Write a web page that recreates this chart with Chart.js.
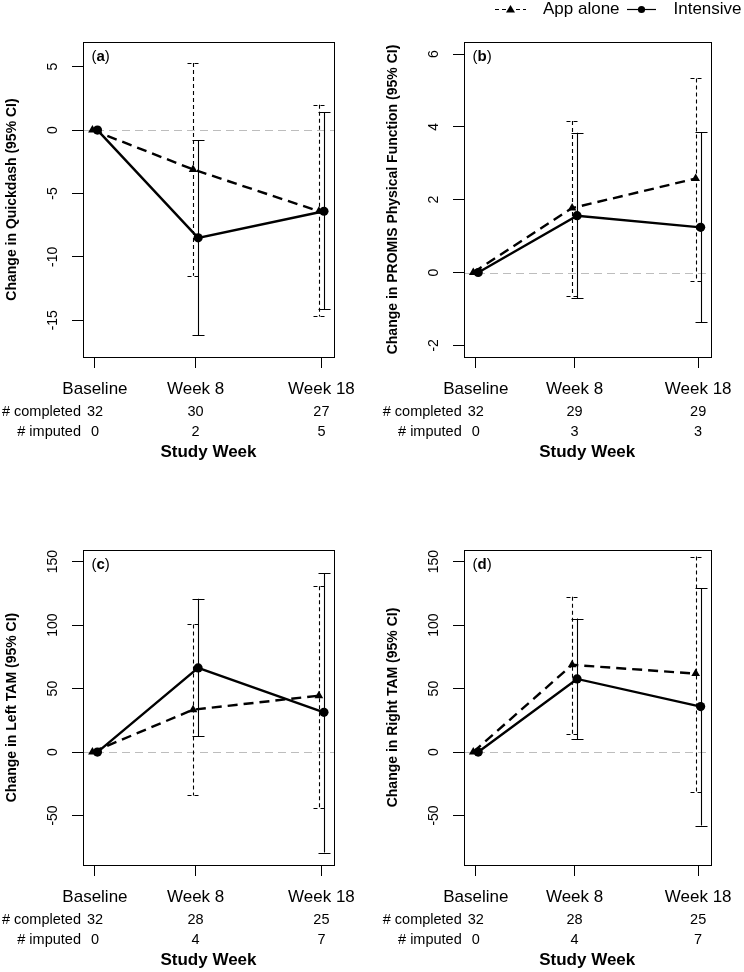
<!DOCTYPE html>
<html>
<head>
<meta charset="utf-8">
<script src="https://cdn.jsdelivr.net/npm/chart.js@4/dist/chart.umd.min.js"></script>
<style>
  html, body { margin: 0; padding: 0; background: #fff; }
  #wrap { position: relative; width: 744px; height: 972px; overflow: hidden; }
  canvas { position: absolute; }
</style>
</head>
<body>
<div id="wrap">
  <canvas id="ca" width="372" height="464" style="left:0;top:0"></canvas>
  <canvas id="cb" width="372" height="464" style="left:372px;top:0"></canvas>
  <canvas id="cc" width="372" height="464" style="left:0;top:508px"></canvas>
  <canvas id="cd" width="372" height="464" style="left:372px;top:508px"></canvas>
</div>
<script>
// ---------------- data ----------------
const weeks = [0, 8, 18];
const weekLabels = ['Baseline', 'Week 8', 'Week 18'];
const seriesNames = ['App alone', 'Intensive'];

// (a) Quickdash
const qdAppMean = [0, -3.1, -6.4];
const qdAppLo   = [null, -11.5, -14.7];
const qdAppHi   = [null, 5.3, 2.0];
const qdIntMean = [0, -8.5, -6.4];
const qdIntLo   = [null, -16.2, -14.15];
const qdIntHi   = [null, -0.8, 1.4];
const qdCompleted = [32, 30, 27];
const qdImputed   = [0, 2, 5];
const qdTicks = [-15, -10, -5, 0, 5];

// (b) PROMIS Physical Function
const pfAppMean = [0, 1.77, 2.58];
const pfAppLo   = [null, -0.64, -0.23];
const pfAppHi   = [null, 4.16, 5.33];
const pfIntMean = [0, 1.56, 1.24];
const pfIntLo   = [null, -0.70, -1.37];
const pfIntHi   = [null, 3.84, 3.86];
const pfCompleted = [32, 29, 29];
const pfImputed   = [0, 3, 3];
const pfTicks = [-2, 0, 2, 4, 6];

// (c) Left TAM
const ltAppMean = [0, 33.4, 44.4];
const ltAppLo   = [null, -34.2, -43.7];
const ltAppHi   = [null, 100.5, 130.7];
const ltIntMean = [0, 66.3, 31.3];
const ltIntLo   = [null, 12.3, -79.2];
const ltIntHi   = [null, 120.8, 141];
const ltCompleted = [32, 28, 25];
const ltImputed   = [0, 4, 7];
const ltTicks = [-50, 0, 50, 100, 150];

// (d) Right TAM
const rtAppMean = [0, 68.7, 61.8];
const rtAppLo   = [null, 14.2, -31.6];
const rtAppHi   = [null, 122.4, 154];
const rtIntMean = [0, 57.6, 35.8];
const rtIntLo   = [null, 10.2, -57.9];
const rtIntHi   = [null, 105.2, 129.2];
const rtCompleted = [32, 28, 25];
const rtImputed   = [0, 4, 7];
const rtTicks = [-50, 0, 50, 100, 150];

// ---------------- styling ----------------
const FONT = "'Liberation Sans', Arial, Helvetica, sans-serif";
const DODGE_APP = -0.2, DODGE_INT = 0.2;

const panelPlugin = {
  id: 'panel',
  beforeDatasetsDraw(chart) {
    const p = chart.options.plugins.panel;
    const { ctx, chartArea: a, scales: { x, y } } = chart;
    // zero reference line
    ctx.save();
    ctx.beginPath(); ctx.rect(a.left, a.top, a.width, a.height); ctx.clip();
    ctx.strokeStyle = '#bdbdbd'; ctx.lineWidth = 1; ctx.setLineDash([8, 5]);
    const y0 = Math.round(y.getPixelForValue(0)) + 0.5;
    ctx.beginPath(); ctx.moveTo(a.left, y0); ctx.lineTo(a.right, y0); ctx.stroke();
    ctx.restore();
    // error bars
    p.bars.forEach(b => {
      ctx.save();
      ctx.strokeStyle = '#000'; ctx.lineWidth = 1.1;
      ctx.setLineDash(b.dash);
      weeks.forEach((w, i) => {
        if (b.lo[i] == null) return;
        const xp = Math.round(x.getPixelForValue(w + b.dodge)) + 0.5;
        const yl = y.getPixelForValue(b.lo[i]);
        const yh = y.getPixelForValue(b.hi[i]);
        ctx.beginPath();
        ctx.moveTo(xp, yh); ctx.lineTo(xp, yl);
        ctx.moveTo(xp - 6, Math.round(yh) + 0.5); ctx.lineTo(xp + 6, Math.round(yh) + 0.5);
        ctx.moveTo(xp - 6, Math.round(yl) + 0.5); ctx.lineTo(xp + 6, Math.round(yl) + 0.5);
        ctx.stroke();
      });
      ctx.restore();
    });
  },
  afterDraw(chart) {
    const p = chart.options.plugins.panel;
    const { ctx, chartArea: a, scales: { x, y } } = chart;
    ctx.save();
    // box
    ctx.strokeStyle = '#000'; ctx.lineWidth = 1; ctx.setLineDash([]);
    ctx.strokeRect(Math.round(a.left) + 0.5, Math.round(a.top) + 0.5,
                   Math.round(a.width), Math.round(a.height));
    ctx.fillStyle = '#000';
    // y tick labels (rotated, R style)
    ctx.font = '14px ' + FONT;
    ctx.textAlign = 'center'; ctx.textBaseline = 'middle';
    y.ticks.forEach(t => {
      const yp = y.getPixelForValue(t.value);
      ctx.save(); ctx.translate(a.left - 30, yp); ctx.rotate(-Math.PI / 2);
      ctx.fillText(String(t.value), 0, 0); ctx.restore();
    });
    // y title
    ctx.font = 'bold 14px ' + FONT;
    ctx.save(); ctx.translate(a.left - 71, (a.top + a.bottom) / 2); ctx.rotate(-Math.PI / 2);
    ctx.fillText(p.yTitle, 0, 0); ctx.restore();
    // panel label
    ctx.textAlign = 'left';
    let px = a.left + 8.5; const py = a.top + 14.5;
    ctx.font = '15px ' + FONT; ctx.fillText('(', px, py); px += ctx.measureText('(').width;
    ctx.font = 'bold 15px ' + FONT; ctx.fillText(p.letter, px, py); px += ctx.measureText(p.letter).width;
    ctx.font = '15px ' + FONT; ctx.fillText(')', px, py);
    // rows below axis
    ctx.font = '14.5px ' + FONT;
    const x0 = x.getPixelForValue(weeks[0]);
    ctx.textAlign = 'right';
    ctx.fillText('# completed', x0 - 14, a.bottom + 54.7);
    ctx.fillText('# imputed', x0 - 14, a.bottom + 75.3);
    ctx.textAlign = 'center';
    weeks.forEach((w, i) => {
      const xp = x.getPixelForValue(w);
      ctx.fillText(String(p.completed[i]), xp, a.bottom + 54.7);
      ctx.fillText(String(p.imputed[i]), xp, a.bottom + 75.3);
    });
    ctx.font = 'bold 17px ' + FONT;
    ctx.fillText('Study Week', (a.left + a.right) / 2, a.bottom + 95.3);
    // legend (only on one panel)
    if (p.legend) {
      const ly = 9.5;
      ctx.lineWidth = 1.2; ctx.strokeStyle = '#000';
      ctx.setLineDash([4, 3]);
      ctx.beginPath(); ctx.moveTo(123, ly); ctx.lineTo(154, ly); ctx.stroke();
      ctx.setLineDash([]);
      ctx.beginPath(); ctx.moveTo(138.5, ly - 4.5); ctx.lineTo(143, ly + 3); ctx.lineTo(134, ly + 3); ctx.closePath(); ctx.fill();
      ctx.beginPath(); ctx.moveTo(255, ly); ctx.lineTo(284, ly); ctx.stroke();
      ctx.beginPath(); ctx.arc(269.5, ly, 3.6, 0, Math.PI * 2); ctx.fill();
      ctx.font = '17px ' + FONT; ctx.textAlign = 'left'; ctx.textBaseline = 'middle';
      ctx.fillText(seriesNames[0], 171, ly);
      ctx.fillText(seriesNames[1], 301.5, ly);
    }
    ctx.restore();
  }
};

function makePanel(id, cfg) {
  const mk = (mean, dodge) => weeks.map((w, i) => ({ x: w + dodge, y: mean[i] }));
  return new Chart(document.getElementById(id), {
    type: 'line',
    data: {
      datasets: [
        { label: seriesNames[0], data: mk(cfg.appMean, DODGE_APP),
          borderColor: '#000', backgroundColor: '#000', borderWidth: 2.4,
          borderDash: [10, 6], pointStyle: 'triangle', pointRadius: 5,
          pointBorderWidth: 0, pointBackgroundColor: '#000', tension: 0 },
        { label: seriesNames[1], data: mk(cfg.intMean, DODGE_INT),
          borderColor: '#000', backgroundColor: '#000', borderWidth: 2.4,
          pointStyle: 'circle', pointRadius: 4.6,
          pointBorderWidth: 0, pointBackgroundColor: '#000', tension: 0 }
      ]
    },
    options: {
      responsive: false, animation: false, devicePixelRatio: 1,
      layout: { padding: { left: 0, top: 42, right: cfg.padRight, bottom: 0 } },
      plugins: {
        legend: { display: false }, tooltip: { enabled: false },
        panel: {
          letter: cfg.letter, yTitle: cfg.yTitle, completed: cfg.completed, imputed: cfg.imputed,
          legend: !!cfg.legend,
          bars: [
            { lo: cfg.appLo, hi: cfg.appHi, dodge: DODGE_APP, dash: [4, 3] },
            { lo: cfg.intLo, hi: cfg.intHi, dodge: DODGE_INT, dash: [] }
          ]
        }
      },
      scales: {
        x: {
          type: 'linear', min: -0.95, max: 19.0,
          afterBuildTicks: s => { s.ticks = weeks.map(v => ({ value: v })); },
          afterFit: s => { s.height = 107; },
          ticks: {
            autoSkip: false, maxRotation: 0, minRotation: 0, padding: 11, color: '#000',
            font: { family: FONT, size: 17 },
            callback: v => weekLabels[weeks.indexOf(v)]
          },
          grid: { drawOnChartArea: false, drawTicks: true, tickLength: 11, color: '#000', lineWidth: 1 },
          border: { display: true, color: '#000' }
        },
        y: {
          type: 'linear', min: cfg.yMin, max: cfg.yMax,
          afterBuildTicks: s => { s.ticks = cfg.yTicks.map(v => ({ value: v })); },
          afterFit: s => { s.width = cfg.yWidth; },
          ticks: { display: false },
          grid: { drawOnChartArea: false, drawTicks: true, tickLength: 11, color: '#000', lineWidth: 1 },
          border: { display: true, color: '#000' }
        }
      }
    },
    plugins: [panelPlugin]
  });
}

makePanel('ca', { letter: 'a', yTitle: 'Change in Quickdash (95% CI)',
  appMean: qdAppMean, appLo: qdAppLo, appHi: qdAppHi,
  intMean: qdIntMean, intLo: qdIntLo, intHi: qdIntHi,
  completed: qdCompleted, imputed: qdImputed, yTicks: qdTicks,
  yMin: -17.9, yMax: 6.95, yWidth: 83, padRight: 38 });

makePanel('cb', { letter: 'b', yTitle: 'Change in PROMIS Physical Function (95% CI)',
  appMean: pfAppMean, appLo: pfAppLo, appHi: pfAppHi,
  intMean: pfIntMean, intLo: pfIntLo, intHi: pfIntHi,
  completed: pfCompleted, imputed: pfImputed, yTicks: pfTicks,
  yMin: -2.32, yMax: 6.33, yWidth: 92, padRight: 29, legend: true });

makePanel('cc', { letter: 'c', yTitle: 'Change in Left TAM (95% CI)',
  appMean: ltAppMean, appLo: ltAppLo, appHi: ltAppHi,
  intMean: ltIntMean, intLo: ltIntLo, intHi: ltIntHi,
  completed: ltCompleted, imputed: ltImputed, yTicks: ltTicks,
  yMin: -89, yMax: 159.2, yWidth: 83, padRight: 38 });

makePanel('cd', { letter: 'd', yTitle: 'Change in Right TAM (95% CI)',
  appMean: rtAppMean, appLo: rtAppLo, appHi: rtAppHi,
  intMean: rtIntMean, intLo: rtIntLo, intHi: rtIntHi,
  completed: rtCompleted, imputed: rtImputed, yTicks: rtTicks,
  yMin: -89, yMax: 159.2, yWidth: 92, padRight: 29 });
</script>
</body>
</html>
